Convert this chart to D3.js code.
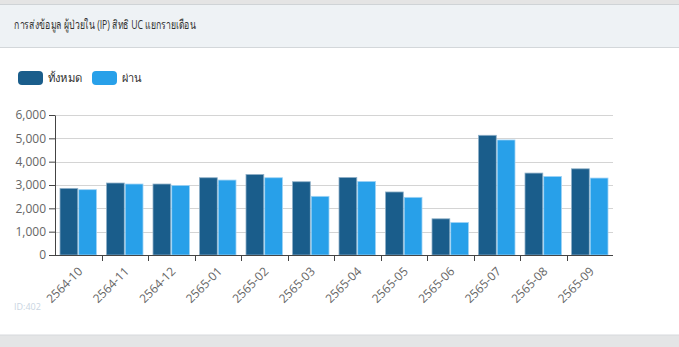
<!DOCTYPE html>
<html>
<head>
<meta charset="utf-8">
<script src="https://cdn.jsdelivr.net/npm/d3@7"></script>
<style>
  body { margin: 0; background: #fff; font-family: "Open Sans", "Noto Sans", sans-serif; }
  svg { display: block; }
</style>
</head>
<body>
<div id="chart"></div>
<script>
// monthly data
var months = ["2564-10","2564-11","2564-12","2565-01","2565-02","2565-03","2565-04","2565-05","2565-06","2565-07","2565-08","2565-09"];
var totalVals = [2855, 3085, 3042, 3311, 3451, 3140, 3323, 2701, 1551, 5130, 3511, 3694];
var passVals  = [2800, 3042, 2983, 3212, 3311, 2514, 3153, 2471, 1393, 4930, 3366, 3298];
var seriesNames = ["ทั้งหมด", "ผ่าน"];
var yTicks = [0, 1000, 2000, 3000, 4000, 5000, 6000];

var W = 679, H = 347;
var colors = ["#1a5d8b", "#28a0e9"];

var svg = d3.select("#chart").append("svg")
    .attr("width", W)
    .attr("height", H);

// page chrome: top strip, header panel, bottom strip
svg.append("rect").attr("x", 0).attr("y", 0).attr("width", W).attr("height", 5).attr("fill", "#e4e4e4");
svg.append("rect").attr("x", 0).attr("y", 5).attr("width", W).attr("height", 42).attr("fill", "#eef2f5");
svg.append("line").attr("x1", 0).attr("x2", W).attr("y1", 4.5).attr("y2", 4.5).attr("stroke", "#cfd3d6");
svg.append("line").attr("x1", 0).attr("x2", W).attr("y1", 47.5).attr("y2", 47.5).attr("stroke", "#d3d7da");
svg.append("rect").attr("x", 0).attr("y", 335).attr("width", W).attr("height", H - 335).attr("fill", "#e4e5e6");
svg.append("line").attr("x1", 0).attr("x2", W).attr("y1", 335).attr("y2", 335).attr("stroke", "#d6d9dc");

// title (the original thai font is narrower, so squeeze it to the same width)
svg.append("text")
    .attr("x", 14).attr("y", 29)
    .attr("font-size", 12.5)
    .attr("fill", "#333")
    .attr("textLength", 182)
    .attr("lengthAdjust", "spacingAndGlyphs")
    .text("การส่งข้อมูล ผู้ป่วยใน (IP) สิทธิ UC แยกรายเดือน");

svg.append("text")
    .attr("x", 14).attr("y", 310)
    .attr("font-size", 9)
    .attr("fill", "#c9d5e2")
    .text("ID:402");

// legend
var legend = svg.append("g").attr("transform", "translate(18,71)");
var legX = [0, 74];
var legW = [34, 20];
seriesNames.forEach(function(name, i) {
    var g = legend.append("g").attr("transform", "translate(" + legX[i] + ",0)");
    g.append("rect")
        .attr("width", 25).attr("height", 14)
        .attr("rx", 4).attr("ry", 4)
        .attr("fill", colors[i]);
    g.append("text")
        .attr("x", 30).attr("y", 11)
        .attr("font-size", 11)
        .attr("fill", "#333")
        .attr("textLength", legW[i])
        .attr("lengthAdjust", "spacingAndGlyphs")
        .text(name);
});

// plot area
var margin = {left: 55, top: 115, right: 66, bottom: 92};
var plotW = W - margin.left - margin.right,
    plotH = H - margin.top - margin.bottom;

var g = svg.append("g").attr("transform", "translate(" + margin.left + "," + margin.top + ")");

var x = d3.scaleBand().domain(months).range([0, plotW]).paddingInner(0).paddingOuter(0);
var x1 = d3.scaleBand().domain([0, 1]).range([5, x.bandwidth() - 5]).paddingInner(0.05);
var y = d3.scaleLinear().domain([0, 6000]).range([plotH, 0]);

// grid lines
g.append("g").selectAll("line")
    .data(yTicks.slice(1))
    .join("line")
    .attr("x1", 0).attr("x2", plotW)
    .attr("y1", function(d) { return Math.round(y(d)) + 0.5; })
    .attr("y2", function(d) { return Math.round(y(d)) + 0.5; })
    .attr("stroke", "#d4d4d4");

// bars
var rows = months.map(function(m, i) { return {m: m, vals: [totalVals[i], passVals[i]]}; });
var groups = g.append("g").selectAll("g")
    .data(rows)
    .join("g")
    .attr("transform", function(d) { return "translate(" + x(d.m) + ",0)"; });

groups.selectAll("rect")
    .data(function(d) { return d.vals.map(function(v, k) { return {k: k, v: v}; }); })
    .join("rect")
    .attr("x", function(d) { return x1(d.k); })
    .attr("width", x1.bandwidth())
    .attr("y", function(d) { return y(d.v); })
    .attr("height", function(d) { return plotH - y(d.v); })
    .attr("fill", function(d) { return colors[d.k]; })
    .attr("stroke", function(d) { return d.k === 0 ? "#8fb0c8" : "#9fd3f5"; })
    .attr("stroke-width", 0.8);

// y axis
var yAxis = g.append("g")
    .call(d3.axisLeft(y).tickValues(yTicks).tickFormat(d3.format(",")).tickSize(6).tickSizeOuter(0));
yAxis.select(".domain").attr("stroke", "#444");
yAxis.selectAll(".tick line").attr("stroke", "#444");
yAxis.selectAll("text").attr("font-size", 12).attr("fill", "#666").attr("font-family", "Open Sans");

// x axis: ticks at category edges, labels at centers
var xAxis = g.append("g").attr("transform", "translate(0," + plotH + ")");
xAxis.append("line")
    .attr("x1", 0).attr("x2", plotW)
    .attr("y1", 0.5).attr("y2", 0.5)
    .attr("stroke", "#444");
xAxis.selectAll(".edge")
    .data(months.slice(1))
    .join("line")
    .attr("class", "edge")
    .attr("x1", function(d) { return Math.round(x(d)) + 0.5; })
    .attr("x2", function(d) { return Math.round(x(d)) + 0.5; })
    .attr("y1", 0).attr("y2", 6)
    .attr("stroke", "#444");
xAxis.selectAll(".lbl")
    .data(months)
    .join("text")
    .attr("class", "lbl")
    .attr("transform", function(d) {
        return "translate(" + (x(d) + x.bandwidth() / 2 - 1) + ",11) rotate(-45)";
    })
    .attr("text-anchor", "end")
    .attr("dy", "0.71em")
    .attr("font-size", 12)
    .attr("fill", "#666")
    .text(function(d) { return d; });
</script>
</body>
</html>
